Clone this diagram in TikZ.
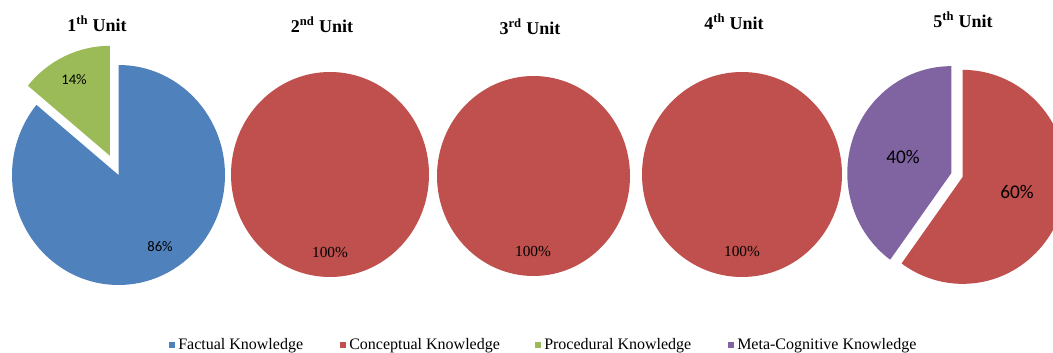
\documentclass[tikz,border=0pt]{standalone}
\usepackage{fontspec}
\setmainfont{Liberation Serif}
\newfontfamily\pctfont{Carlito}
\usetikzlibrary{calc}
\definecolor{factual}{HTML}{4F81BD}
\definecolor{conceptual}{HTML}{C0504D}
\definecolor{procedural}{HTML}{9BBB59}
\definecolor{metacog}{HTML}{8064A2}

\begin{document}
\begin{tikzpicture}[x=0.75pt,y=0.75pt,
    title/.style={font=\bfseries\fontsize{13.5}{15}\selectfont},
    pct/.style={font=\pctfont\fontsize{11}{13}\selectfont},
    bigpct/.style={font=\pctfont\fontsize{14.5}{16}\selectfont},
    fullpct/.style={font=\fontsize{11.5}{13}\selectfont},
    key/.style={fill=#1, minimum size=5.2pt, inner sep=0pt},
    keytext/.style={font=\fontsize{12}{14}\selectfont, anchor=west, inner sep=0pt}]
    \useasboundingbox (0,0) rectangle (1053,353);
    \clip (0,0) rectangle (1053,353);

    % 1th unit
    \coordinate (c1) at (118.5,178);
    \fill[factual] (c1) -- ++(0,110) arc[start angle=90, end angle=-219.6, x radius=106.5, y radius=110] -- cycle;
    \coordinate (g1) at ($(c1)+(114:21)$);
    \fill[procedural] (g1) -- ++(0,110) arc[start angle=90, end angle=140.4, x radius=106.5, y radius=110] -- cycle;
    \node[title] (t1) at (97,329) {1\textsuperscript{th} Unit};
    \node[pct] (p14) at (74,273) {14\%};
    \node[pct] (p86) at (160,106) {86\%};

    % 2nd to 4th unit
    \foreach \cx/\cy/\rx/\ry in {330/178.5/99/102.5, 533.5/177/96.5/100, 742/178.5/100/102.5}
        \fill[conceptual] (\cx,\cy) ellipse[x radius=\rx, y radius=\ry];
    \node[title] (t2) at (322,328) {2\textsuperscript{nd} Unit};
    \node[title] (t3) at (530,326) {3\textsuperscript{rd} Unit};
    \node[title] (t4) at (734,331) {4\textsuperscript{th} Unit};
    \node[fullpct] (p2) at (330,100) {100\%};
    \node[fullpct] (p3) at (533,101) {100\%};
    \node[fullpct] (p4) at (742,101) {100\%};

    % 5th unit
    \coordinate (c5) at (957,178);
    \coordinate (m5) at ($(c5)+(162:6)$);
    \coordinate (r5) at ($(c5)+(-18:6)$);
    \fill[metacog] (m5) -- ++(0,107) arc[start angle=90, end angle=234, x radius=104, y radius=107] -- cycle;
    \fill[conceptual] (r5) -- ++(0,107) arc[start angle=90, end angle=-126, x radius=104, y radius=107] -- cycle;
    \node[title] (t5) at (963,333) {5\textsuperscript{th} Unit};
    \node[bigpct] (p40) at (903,196) {40\%};
    \node[bigpct] (p60) at (1017,161) {60\%};

    % legend
    \node[key=factual] (k1) at (172,8) {};
    \node[keytext] (l1) at (178,7) {Factual Knowledge};
    \node[key=conceptual] (k2) at (343,8) {};
    \node[keytext] (l2) at (349,7) {Conceptual Knowledge};
    \node[key=procedural] (k3) at (538,8) {};
    \node[keytext] (l3) at (544,7) {Procedural Knowledge};
    \node[key=metacog] (k4) at (731,8) {};
    \node[keytext] (l4) at (737,7) {Meta-Cognitive Knowledge};
\end{tikzpicture}
\end{document}
